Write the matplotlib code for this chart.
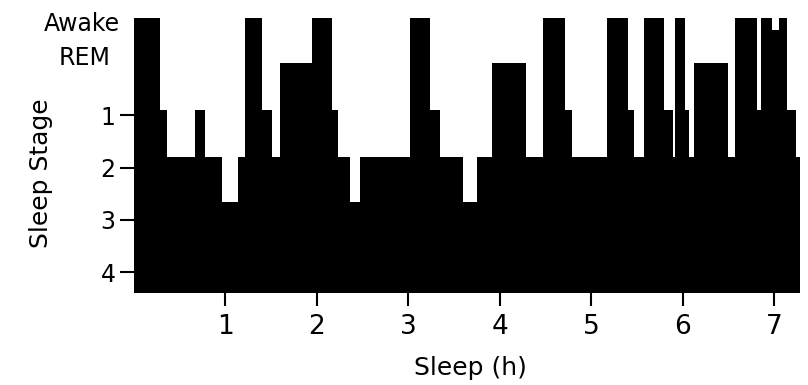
import matplotlib
matplotlib.use('Agg')
import matplotlib.pyplot as plt

#hypnogram: start time of each episode (h) and the stage of that episode
starts=[0.0,0.29,0.36,0.67,0.78,0.97,1.14,1.22,1.40,1.51,1.60,1.95,2.17,2.23,2.36,2.47,
        3.02,3.24,3.35,3.60,3.75,3.92,4.29,4.47,4.71,4.79,5.17,5.40,5.47,5.58,5.80,5.89,
        5.92,6.02,6.07,6.12,6.49,6.57,6.81,6.86,6.98,7.05,7.14,7.24]
stages=['W','1','2','1','2','3','2','W','1','2','R','W','1','2','3','2',
        'W','1','2','3','2','R','2','W','1','2','W','1','2','W','1','2',
        'W','1','2','R','2','W','1','W','w','W','1','2']
end_time=7.28

#height each stage is drawn at in the original ('w' is the short dip inside the last awake block)
stage_level={'W':-0.86,'w':-0.63,'R':0.0,'1':0.9,'2':1.8,'3':2.66}
floor=4.40

ytick_pos=[1,2,3,4]
ytick_labels=['1','2','3','4']
#Awake and REM are written beside the axis without tick marks
extra_labels=['Awake','REM']
extra_pos=[-0.75,-0.10]
xtick_pos=[1,2,3,4,5,6,7]

plt.rcParams['font.family']='DejaVu Sans'

fig=plt.figure(figsize=(8.08,3.85),dpi=100)
ax=fig.add_axes([0.1653,0.239,0.990-0.1653,0.961-0.239])

x=starts+[end_time]
y=[stage_level[s] for s in stages]
y=y+[y[-1]]
ax.fill_between(x,y,floor,step='post',color='black',linewidth=0)

ax.set_xlim(0,end_time)
ax.set_ylim(floor,-0.92)
for s in ax.spines.values():
    s.set_visible(False)

ax.set_xticks(xtick_pos)
ax.set_xticklabels([str(i) for i in xtick_pos])
ax.set_yticks(ytick_pos)
ax.set_yticklabels(ytick_labels)
ax.tick_params(axis='x',length=9,width=1.5,pad=6,labelsize=19)
ax.tick_params(axis='y',length=10,width=1.5,pad=3,labelsize=17)

for lab,pos,xo in zip(extra_labels,extra_pos,[-0.020,-0.035]):
    ax.text(xo,pos,lab,transform=ax.get_yaxis_transform(),ha='right',va='center',fontsize=17)

ax.set_xlabel('Sleep (h)',fontsize=18)
ax.xaxis.set_label_coords(0.505,-0.225)
ax.set_ylabel('Sleep Stage',fontsize=18)
ax.yaxis.set_label_coords(-0.121,0.43)

fig.savefig('out.png',dpi=100)
